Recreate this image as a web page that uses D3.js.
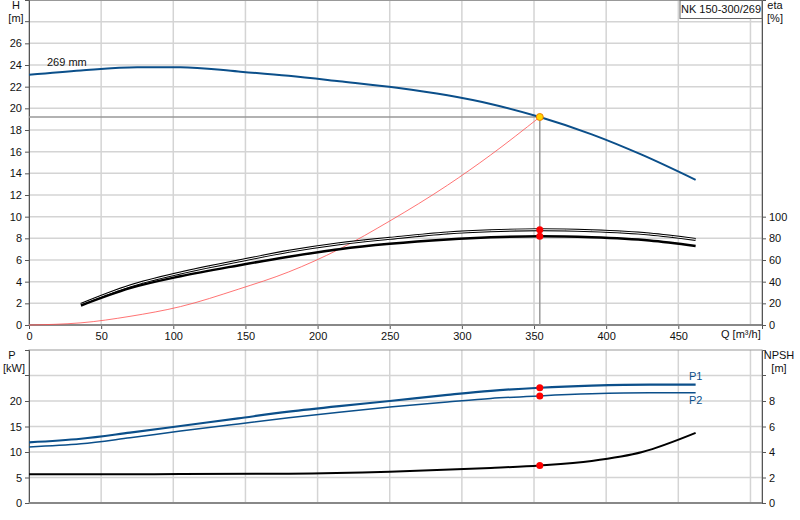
<!DOCTYPE html><html><head><meta charset="utf-8"><script src="https://cdn.jsdelivr.net/npm/d3@7"></script>
<style>body{margin:0;background:#fff}text{font-family:"Liberation Sans",Arial,sans-serif;font-size:11px;fill:#111}</style></head><body><svg id="c" width="800" height="520"></svg>
<script>
const headQ=[0,36,75,105,145,180,215,255,290,320,354,390,425,462];
const headH=[23.1,23.5,23.8,23.8,23.4,23.0,22.5,21.9,21.2,20.4,19.2,17.6,15.7,13.4];
const etaQ=[36,70,105,145,180,215,250,290,320,354,390,430,462];
const eta1=[19,36,48,59,68,75,80,85,87,88,87,84,79];
const eta2=[18,34,45,55,63,70,75,79,81,82,81,78,73];
const sysQ=[0,36,70,105,145,180,215,250,290,320,354];
const sysH=[0,0.2,0.8,1.7,3.3,4.9,7.0,9.6,12.9,15.7,19.2];
const pQ=[0,36,70,105,145,180,215,250,290,320,354,390,430,462];
const p1=[11.9,12.6,13.8,15.1,16.6,17.9,19.0,20.0,21.2,22.0,22.6,23.0,23.2,23.2];
const p2=[11.0,11.6,12.8,14.1,15.5,16.7,17.8,18.8,19.8,20.5,21.0,21.4,21.6,21.6];
const npshQ=[0,36,105,180,250,320,354,390,425,462];
const npsh=[2.25,2.25,2.27,2.3,2.45,2.75,2.95,3.3,4.0,5.5];
const duty={q:354,h:19.2,e1:88,e2:82,p1:22.6,p2:21.0,n:2.95};
const qTicks=[0,50,100,150,200,250,300,350,400,450];
const hTicks=[0,2,4,6,8,10,12,14,16,18,20,22,24,26];
const etaTicks=[0,20,40,60,80,100];
const pTicks=[0,5,10,15,20];
const nTicks=[0,2,4,6,8];

const svg=d3.select("#c");
const x=d3.scaleLinear().domain([0,508]).range([29,762]);
const yH=d3.scaleLinear().domain([0,30]).range([325,0]);
const yE=d3.scaleLinear().domain([0,300]).range([325,0]);
const yP=d3.scaleLinear().domain([0,30]).range([503,350]);
const yN=d3.scaleLinear().domain([0,12]).range([503,350]);
const grid="#d4d4d4";
function vgrid(y0,y1){d3.range(50,501,50).forEach(q=>svg.append("line").attr("x1",x(q)).attr("x2",x(q)).attr("y1",y0).attr("y2",y1).attr("stroke",grid).attr("stroke-width",1.5));}
vgrid(0,325);vgrid(350,503);
d3.range(2,29,2).forEach(h=>svg.append("line").attr("x1",29).attr("x2",762).attr("y1",yH(h)).attr("y2",yH(h)).attr("stroke",grid).attr("stroke-width",1.5));
d3.range(5,26,5).forEach(p=>svg.append("line").attr("x1",29).attr("x2",762).attr("y1",yP(p)).attr("y2",yP(p)).attr("stroke",grid).attr("stroke-width",1.5));
svg.append("rect").attr("x",29).attr("y",0.5).attr("width",733).attr("height",324.5).attr("fill","none").attr("stroke","#999");
svg.append("rect").attr("x",29).attr("y",350).attr("width",733).attr("height",153).attr("fill","none").attr("stroke","#999");
const ax=(g,a)=>{g.call(a);g.selectAll(".domain").attr("stroke","#555");g.selectAll(".tick line").attr("stroke","#555");g.selectAll("text").style("font-size","11px").style("font-family","Liberation Sans, Arial, sans-serif");};
svg.append("g").attr("transform","translate(0,325)").call(g=>ax(g,d3.axisBottom(x).tickValues(qTicks).tickSize(4)));
svg.append("g").attr("transform","translate(29,0)").call(g=>ax(g,d3.axisLeft(yH).tickValues(hTicks).tickSize(4)));
svg.append("line").attr("x1",25).attr("x2",29).attr("y1",yH(28)).attr("y2",yH(28)).attr("stroke","#555");
svg.append("g").attr("transform","translate(762,0)").call(g=>ax(g,d3.axisRight(yE).tickValues(etaTicks).tickSize(4)));
svg.append("g").attr("transform","translate(29,0)").call(g=>ax(g,d3.axisLeft(yP).tickValues(pTicks).tickSize(4)));
svg.append("line").attr("x1",25).attr("x2",29).attr("y1",yP(25)).attr("y2",yP(25)).attr("stroke","#555");
svg.append("g").attr("transform","translate(762,0)").call(g=>ax(g,d3.axisRight(yN).tickValues(nTicks).tickSize(4)));
svg.append("line").attr("x1",762).attr("x2",766).attr("y1",yN(10)).attr("y2",yN(10)).attr("stroke","#555");
svg.append("line").attr("x1",29).attr("x2",762).attr("y1",325).attr("y2",325).attr("stroke","#888").attr("stroke-width",2);
svg.append("line").attr("x1",29).attr("x2",762).attr("y1",503).attr("y2",503).attr("stroke","#888").attr("stroke-width",2);
svg.append("line").attr("x1",29).attr("x2",x(duty.q)).attr("y1",yH(duty.h)).attr("y2",yH(duty.h)).attr("stroke","#999").attr("stroke-width",1.5);
svg.append("line").attr("x1",x(duty.q)).attr("x2",x(duty.q)).attr("y1",yH(duty.h)).attr("y2",325).attr("stroke","#999").attr("stroke-width",1.5);
const line=(xs,ys,ysc)=>d3.line().curve(d3.curveMonotoneX)(xs.map((q,i)=>[x(q),ysc(ys[i])]));
const path=(d,c,w)=>svg.append("path").attr("d",d).attr("fill","none").attr("stroke",c).attr("stroke-width",w);
path(line(sysQ,sysH,yH),"#ff5050",0.8);
path(line(headQ,headH,yH),"#0b4f8a",2);
path(line(etaQ,eta1,yE),"#000",3);path(line(etaQ,eta1,yE),"#fff",1);
path(line(etaQ,eta2,yE),"#000",2.5);
path(line(pQ,p1,yP),"#0b4f8a",2.2);
path(line(pQ,p2,yP),"#0b4f8a",1.5);
path(line(npshQ,npsh,yN),"#000",2);
const dot=(cx,cy,f)=>svg.append("circle").attr("cx",cx).attr("cy",cy).attr("r",3.5).attr("fill",f).attr("stroke",f=="#ffd700"?"#f08000":"none");
dot(x(duty.q),yE(duty.e1),"red");dot(x(duty.q),yE(duty.e2),"red");
dot(x(duty.q),yP(duty.p1),"red");dot(x(duty.q),yP(duty.p2),"red");dot(x(duty.q),yN(duty.n),"red");
dot(x(duty.q),yH(duty.h),"#ffd700");
const t=(s,xx,yy,a,c)=>svg.append("text").attr("x",xx).attr("y",yy).attr("text-anchor",a||"start").style("fill",c||"#111").text(s);
t("H",16,9,"middle");t("[m]",16,22,"middle");
t("eta",775,9,"middle");t("[%]",775,22,"middle");
t("Q [m³/h]",721,338);
t("269 mm",47,66);
t("P",12,359,"middle");t("[kW]",14,372,"middle");
t("NPSH",779,359,"middle");t("[m]",779,372,"middle");
t("P1",689,380,"start","#0b4f8a");t("P2",689,404,"start","#0b4f8a");
svg.append("rect").attr("x",680).attr("y",0.5).attr("width",82).attr("height",18).attr("fill","#fff").attr("stroke","#666");
t("NK 150-300/269",721,13,"middle");
</script></body></html>
